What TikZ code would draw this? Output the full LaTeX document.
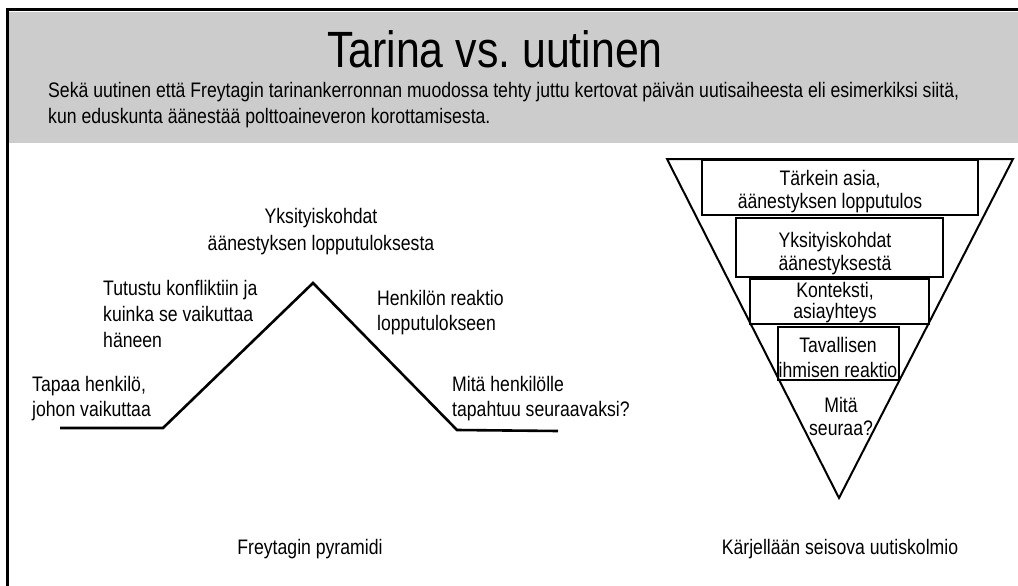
\documentclass[tikz,border=0pt]{standalone}
\usepackage{fontspec}
\usetikzlibrary{fit}
\setmainfont[FakeStretch=0.84]{Liberation Sans}
\definecolor{hdrgray}{HTML}{CCCCCC}
\frenchspacing
\begin{document}
\begin{tikzpicture}[x=1pt,y=-1pt,
  txt/.style={inner sep=0pt, font=\fontsize{21}{25}\selectfont},
  ltxt/.style={txt, anchor=base west, align=left},
  ctxt/.style={txt, anchor=base, align=center},
  btxt/.style={txt, anchor=base, align=center, font=\fontsize{21}{23}\selectfont},
  box/.style={draw, line width=2.6pt, inner sep=0pt},
  curve/.style={line width=2.6pt, line join=miter},
  tri/.style={line width=2pt, line join=miter}]
\useasboundingbox (0,0) rectangle (1018,586);
\fill[white] (0,0) rectangle (1018,586);
% header
\fill[hdrgray] (8,12) rectangle (1018,143);
\draw[line width=3pt] (7,586) -- (7,10) -- (1018,10);
\node[inner sep=0pt, anchor=base, font=\fontsize{51}{51}\selectfont] (title) at (495,67) {Tarina vs.\ uutinen};
\node[ltxt] (sub) at (48,123) {Sekä uutinen että Freytagin tarinankerronnan muodossa tehty juttu kertovat päivän uutisaiheesta eli esimerkiksi siitä,\\kun eduskunta äänestää polttoaineveron korottamisesta.};
% Freytag pyramid
\coordinate (f1) at (60,428);
\coordinate (f2) at (163,428);
\coordinate (f3) at (313,283);
\coordinate (f4) at (457,430);
\coordinate (f5) at (558,431);
\draw[curve] (f1) -- (f2) -- (f3) -- (f4) -- (f5);
\node[ctxt, font=\fontsize{21}{27}\selectfont] (peak) at (321,250) {Yksityiskohdat\\äänestyksen lopputuloksesta};
\node[ltxt, font=\fontsize{21}{26}\selectfont] (rise) at (103,347) {Tutustu konfliktiin ja\\kuinka se vaikuttaa\\häneen};
\node[ltxt] (fall) at (377,330) {Henkilön reaktio\\lopputulokseen};
\node[ltxt] (intro) at (32,416) {Tapaa henkilö,\\johon vaikuttaa};
\node[ltxt] (outro) at (452,416) {Mitä henkilölle\\tapahtuu seuraavaksi?};
\node[ctxt] (fcap) at (310,554) {Freytagin pyramidi};
% inverted triangle
\coordinate (t1) at (667,159);
\coordinate (t2) at (1013,159);
\coordinate (t3) at (839,498);
\draw[tri] (t1) -- (t2) -- (t3) -- cycle;
\node[box, fit={(702,160) (978,215)}] (b1) {};
\node[box, fit={(736,218) (943,277)}] (b2) {};
\node[box, fit={(750,279) (929,324)}] (b3) {};
\node[box, fit={(778,327) (899,380)}] (b4) {};
\node[btxt] (l1) at (830,208) {Tärkein asia,\\äänestyksen lopputulos};
\node[btxt] (l2) at (835,270) {Yksityiskohdat\\äänestyksestä};
\node[btxt, font=\fontsize{21}{21}\selectfont] (l3) at (835,318) {Konteksti,\\asiayhteys};
\node[btxt, font=\fontsize{21}{25}\selectfont] (l4) at (838,377) {Tavallisen\\ihmisen reaktio};
\node[btxt] (l5) at (841,435) {Mitä\\seuraa?};
\node[ctxt] (tcap) at (840,554) {Kärjellään seisova uutiskolmio};
\end{tikzpicture}
\end{document}
